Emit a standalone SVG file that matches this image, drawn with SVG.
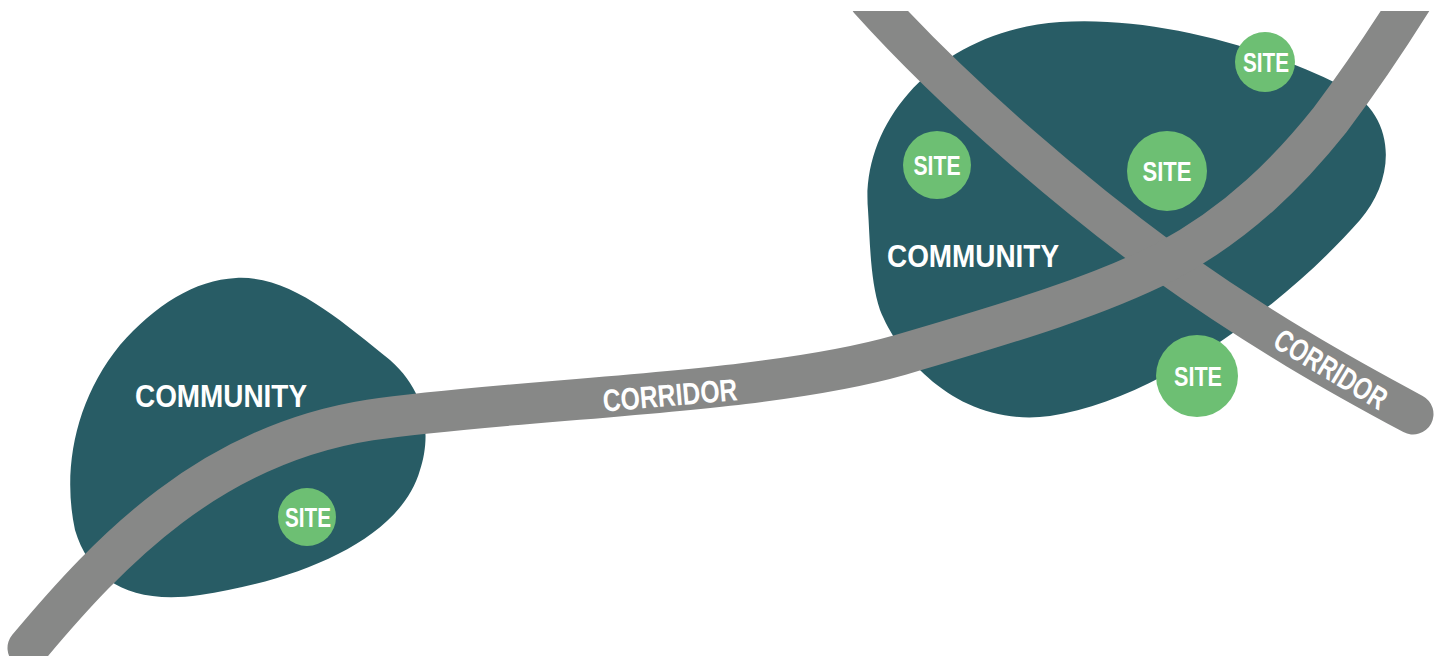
<svg xmlns="http://www.w3.org/2000/svg" width="1442" height="656" viewBox="0 0 1442 656">
<defs>
<style>
.blob{fill:#285c65}
.road{fill:none;stroke:#878887;stroke-width:41;stroke-linecap:round}
.site{fill:#6dbf73}
.t{font-family:"Liberation Sans",Arial,sans-serif;font-weight:bold;fill:#ffffff;text-anchor:middle}
.st{font-size:28px}
.ct{font-size:32px}
.rt{font-size:31px}
</style>
<clipPath id="clip"><rect x="0" y="11" width="1442" height="645"/></clipPath>
</defs>
<rect width="1442" height="656" fill="#ffffff"/>
<g id="community-left">
<path class="blob" d="M 236 278 C 290 275, 340 320, 390 360 C 430 395, 430 440, 420 470 C 400 540, 300 580, 200 595 C 130 605, 90 580, 75 530 C 62 470, 75 400, 120 345 C 155 305, 195 280, 236 278 Z"/>
</g>
<g id="community-right">
<path class="blob" d="M 868 210 C 860 120, 940 30, 1060 22 C 1150 16, 1260 45, 1340 85 C 1400 115, 1395 180, 1360 220 C 1290 300, 1160 400, 1050 416 C 960 428, 900 360, 880 310 C 870 280, 870 240, 868 210 Z"/>
</g>
<g id="connectors" clip-path="url(#clip)">
<path class="road" d="M 870 0 C 960 100, 1080 200, 1165 262 C 1260 330, 1340 375, 1413 414"/>
<path class="road" d="M 28 648 C 110 550, 210 445, 370 420 C 520 398, 760 395, 900 355 C 1020 320, 1100 295, 1165 262 C 1240 222, 1290 170, 1330 120 C 1360 80, 1390 35, 1412 0"/>
</g>
<g id="labels">
<text class="t ct" x="221" y="407" textLength="172" lengthAdjust="spacingAndGlyphs">COMMUNITY</text>
<text class="t ct" x="973" y="267" textLength="172" lengthAdjust="spacingAndGlyphs">COMMUNITY</text>
<text class="t rt" transform="translate(670,395) rotate(-5)" x="0" y="11" textLength="135" lengthAdjust="spacingAndGlyphs">CORRIDOR</text>
<text class="t rt" transform="translate(1331,369) rotate(31)" x="0" y="11" textLength="126" lengthAdjust="spacingAndGlyphs">CORRIDOR</text>
</g>
<g id="site-1"><circle class="site" cx="1265" cy="62" r="30"/><text class="t st" x="1266" y="72" textLength="46" lengthAdjust="spacingAndGlyphs">SITE</text></g>
<g id="site-2"><circle class="site" cx="937" cy="165" r="34"/><text class="t st" x="937" y="175" textLength="47" lengthAdjust="spacingAndGlyphs">SITE</text></g>
<g id="site-3"><circle class="site" cx="1167" cy="171" r="40"/><text class="t st" x="1167" y="181" textLength="49" lengthAdjust="spacingAndGlyphs">SITE</text></g>
<g id="site-4"><circle class="site" cx="1197" cy="376" r="41"/><text class="t st" x="1198" y="386" textLength="48" lengthAdjust="spacingAndGlyphs">SITE</text></g>
<g id="site-5"><circle class="site" cx="307" cy="517" r="29"/><text class="t st" x="308" y="527" textLength="46" lengthAdjust="spacingAndGlyphs">SITE</text></g>
</svg>
